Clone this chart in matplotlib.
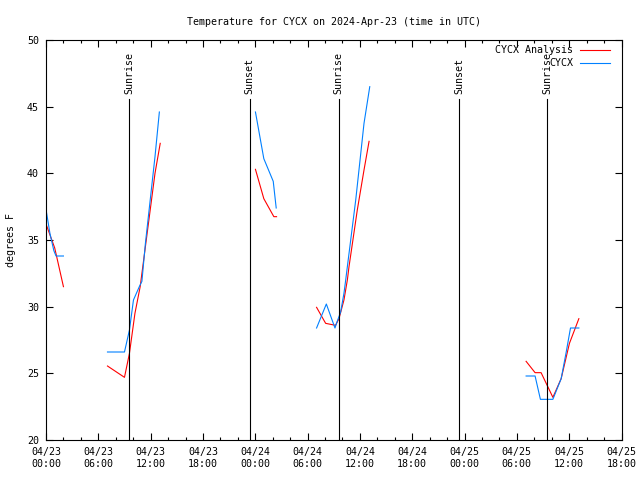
import numpy as np
import matplotlib
matplotlib.use("Agg")
import matplotlib.pyplot as plt
import matplotlib.dates as mdates
from datetime import datetime, timedelta

# hours since 2024-04-23 00:00 UTC, NaN = gap between data runs
nan = np.nan
ana_hours = [0.0, 1.0, 2.0, nan,
             7.05, 9.0, 9.57, 10.2, 10.8, 11.2, 11.95, 12.5, 13.1, nan,
             24.02, 24.98, 26.13, 26.44, nan,
             31.03, 32.07, 33.2, 33.6, 34.17, 34.56, 34.75, 35.7, 36.47, 37.05, nan,
             55.06, 56.09, 56.78, 58.13, 59.08, 60.03, 61.11]
ana_temp = [36.2, 34.4, 31.5, nan,
            25.55, 24.7, 26.5, 29.5, 31.5, 33.5, 37.25, 40.0, 42.25, nan,
            40.3, 38.1, 36.75, 36.75, nan,
            29.95, 28.75, 28.6, 29.1, 30.5, 32.0, 33.0, 37.25, 40.25, 42.4, nan,
            25.9, 25.05, 25.05, 23.2, 24.6, 27.25, 29.1]

obs_hours = [0.0, 0.45, 0.9, 1.15, 2.0, nan,
             7.05, 9.0, 9.57, 10.03, 10.7, 11.0, 11.4, 11.95, 12.5, 13.0, nan,
             24.02, 24.98, 26.06, 26.4, nan,
             31.03, 32.15, 33.14, 33.4, 33.79, 34.17, 34.37, 34.56, 35.52, 36.47, 37.13, nan,
             55.06, 56.09, 56.7, 58.13, 59.08, 59.66, 60.15, 61.11]
obs_temp = [37.3, 35.5, 34.2, 33.8, 33.8, nan,
            26.6, 26.6, 28.25, 30.5, 31.5, 31.9, 34.75, 38.0, 41.25, 44.6, nan,
            44.6, 41.1, 39.4, 37.4, nan,
            28.4, 30.2, 28.4, 28.9, 29.6, 31.0, 32.0, 33.0, 38.0, 43.75, 46.5, nan,
            24.8, 24.8, 23.05, 23.05, 24.6, 26.6, 28.4, 28.4]

event_hours = [9.55, 23.37, 33.58, 47.38, 57.47]
event_names = ['Sunrise', 'Sunset', 'Sunrise', 'Sunset', 'Sunrise']

start = datetime(2024, 4, 23)


def to_dates(hours):
    return [start + timedelta(hours=h) if not np.isnan(h) else start for h in hours]


def with_gaps(hours, temps):
    t = np.array(temps, dtype=float)
    t[np.isnan(np.array(hours, dtype=float))] = np.nan
    return to_dates(hours), t


plt.rcParams['font.family'] = 'DejaVu Sans Mono'
plt.rcParams['font.size'] = 7.2

fig = plt.figure(figsize=(6.4, 4.8), dpi=100)
ax = fig.add_axes([46 / 640, 40 / 480, 575.5 / 640, 400 / 480])

x, y = with_gaps(ana_hours, ana_temp)
ax.plot(x, y, color='#ff0000', lw=0.8, label='CYCX Analysis')
x, y = with_gaps(obs_hours, obs_temp)
ax.plot(x, y, color='#0080ff', lw=0.8, label='CYCX')

# sunrise / sunset markers
for h, name in zip(event_hours, event_names):
    t = start + timedelta(hours=h)
    ax.plot([t, t], [20, 45.6], color='black', lw=0.8)
    ax.text(t, 45.95, name, rotation=90, ha='center', va='bottom')

ax.set_xlim(start, start + timedelta(hours=66))
ax.set_ylim(20, 50)
ax.set_yticks(np.arange(20, 51, 5))
ax.xaxis.set_major_locator(mdates.HourLocator(byhour=[0, 6, 12, 18]))
ax.xaxis.set_minor_locator(mdates.HourLocator(interval=2))
ax.xaxis.set_major_formatter(mdates.DateFormatter('%m/%d\n%H:%M'))
ax.tick_params(which='both', direction='in', top=True, right=True, width=0.8)
ax.tick_params(which='major', length=5, pad=5)
ax.tick_params(which='minor', length=2.5)
for s in ax.spines.values():
    s.set_linewidth(0.8)

ax.set_ylabel('degrees F', labelpad=8)
ax.set_title('Temperature for CYCX on 2024-Apr-23 (time in UTC)', fontsize=7.2, pad=10.8)
ax.legend(loc='upper right', bbox_to_anchor=(0.98, 0.987), frameon=False,
          markerfirst=False, handlelength=3.0, labelspacing=0.3,
          borderaxespad=0, borderpad=0, handletextpad=0.7)

fig.savefig('out.png', dpi=100)
